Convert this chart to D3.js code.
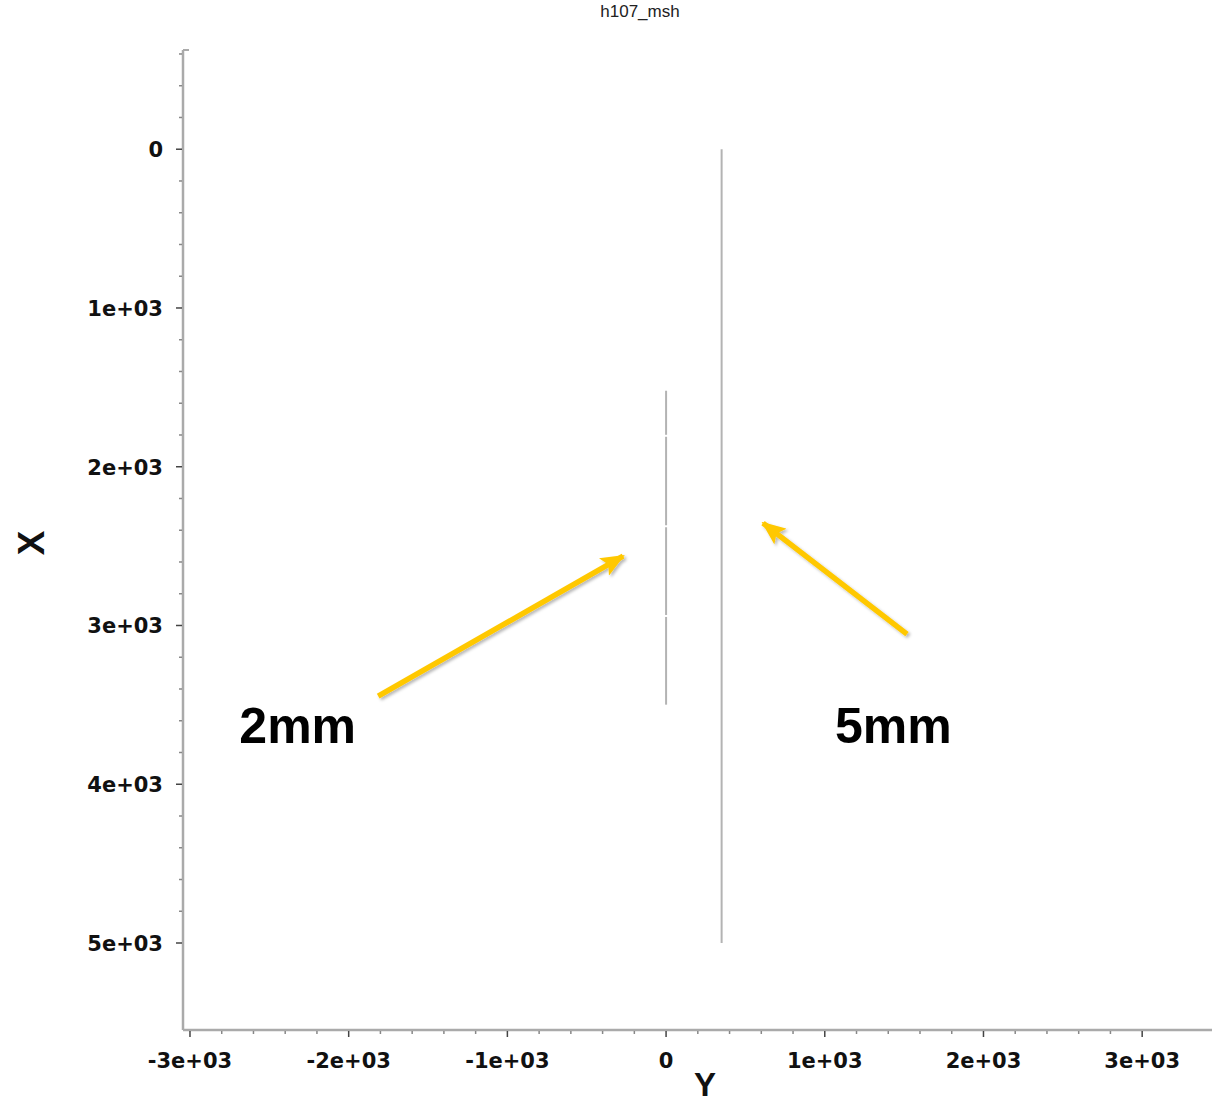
<!DOCTYPE html>
<html>
<head>
<meta charset="utf-8">
<script src="https://cdn.jsdelivr.net/npm/d3@7"></script>
<style>
  html, body { margin: 0; padding: 0; background: #fff; }
  svg { display: block; }
</style>
</head>
<body>
<svg id="chart" width="1212" height="1105"></svg>
<script>
// ---- data ----
const chartTitle = "h107_msh";
const xAxisTitle = "Y";
const yAxisTitle = "X";
const xMajorTicks = [-3000, -2000, -1000, 0, 1000, 2000, 3000];
const xTickLabels = ["-3e+03", "-2e+03", "-1e+03", "0", "1e+03", "2e+03", "3e+03"];
const yMajorTicks = [0, 1000, 2000, 3000, 4000, 5000];
const yTickLabels = ["0", "1e+03", "2e+03", "3e+03", "4e+03", "5e+03"];
const minorStep = 200;
// electrode lines: position along Y, and segment boundaries along X
const line5mmY = 350;
const line5mmX = [0, 5000];
const line2mmY = 0;
const line2mmBounds = [1515, 1805, 2375, 2940, 3505];
// annotations (data units: [Y, X])
const arrows = [
  { from: [-1814, 3445], to: [-271, 2563] },
  { from: [1518, 3054], to: [611, 2355] }
];
const labels = [
  { text: "2mm", at: [-2689, 3741] },
  { text: "5mm", at: [1064, 3741] }
];

// ---- layout ----
const svg = d3.select("#chart");
const x = d3.scaleLinear().domain([-3044, 3440]).range([183, 1212]);
const y = d3.scaleLinear().domain([-625, 5548]).range([50, 1030]);

const defs = svg.append("defs");
const f = defs.append("filter").attr("id", "shadow").attr("x", "-20%").attr("y", "-20%").attr("width", "140%").attr("height", "140%");
f.append("feDropShadow").attr("dx", 2).attr("dy", 2).attr("stdDeviation", 1.8)
  .attr("flood-color", "#000").attr("flood-opacity", 0.28);
defs.append("marker").attr("id", "head")
  .attr("markerUnits", "userSpaceOnUse")
  .attr("viewBox", "0 0 24 20").attr("refX", 22).attr("refY", 10)
  .attr("markerWidth", 24).attr("markerHeight", 20).attr("orient", "auto")
  .append("path").attr("d", "M0,0 L24,10 L0,20 L5,10 Z").attr("fill", "#FFC800");

// title
svg.append("text").attr("x", 640).attr("y", 17).attr("text-anchor", "middle")
  .attr("font-family", "Liberation Sans, Arial, sans-serif").attr("font-size", 17)
  .attr("fill", "#222").text(chartTitle);

// axes lines
const axisColor = "#aaaaaa";
svg.append("line").attr("x1", x.range()[0]).attr("x2", x.range()[1])
  .attr("y1", y.range()[1]).attr("y2", y.range()[1])
  .attr("stroke", axisColor).attr("stroke-width", 2.5);
svg.append("line").attr("x1", x.range()[0]).attr("x2", x.range()[0])
  .attr("y1", y.range()[0]).attr("y2", y.range()[1])
  .attr("stroke", axisColor).attr("stroke-width", 2.5);
svg.append("line").attr("x1", x.range()[0]).attr("x2", x.range()[0] + 6)
  .attr("y1", y.range()[0]).attr("y2", y.range()[0])
  .attr("stroke", axisColor).attr("stroke-width", 2);

// ticks
const xMinor = d3.range(-3000, 3000 + 1, minorStep);
const yMinor = d3.range(-600, 5000 + 1, minorStep);
const yBase = y.range()[1];
const xBase = x.range()[0];
svg.append("g").selectAll("line").data(xMinor).join("line")
  .attr("x1", d => x(d)).attr("x2", d => x(d))
  .attr("y1", yBase + 1).attr("y2", d => yBase + (d % 1000 === 0 ? 7 : 4))
  .attr("stroke", d => d % 1000 === 0 ? "#444" : "#888").attr("stroke-width", 1.5);
svg.append("g").selectAll("line").data(yMinor).join("line")
  .attr("y1", d => y(d)).attr("y2", d => y(d))
  .attr("x1", xBase - 1).attr("x2", d => xBase - (d % 1000 === 0 ? 7 : 4))
  .attr("stroke", d => d % 1000 === 0 ? "#444" : "#888").attr("stroke-width", 1.5);

const tickFont = "DejaVu Sans, Verdana, sans-serif";
svg.append("g").selectAll("text").data(xMajorTicks).join("text")
  .attr("x", d => x(d)).attr("y", 1068).attr("text-anchor", "middle")
  .attr("font-family", tickFont).attr("font-weight", "bold").attr("font-size", 21)
  .attr("fill", "#111").text((d, i) => xTickLabels[i]);
svg.append("g").selectAll("text").data(yMajorTicks).join("text")
  .attr("x", 163).attr("y", d => y(d) + 8).attr("text-anchor", "end")
  .attr("font-family", tickFont).attr("font-weight", "bold").attr("font-size", 21)
  .attr("fill", "#111").text((d, i) => yTickLabels[i]);

// axis titles
svg.append("text").attr("x", 705).attr("y", 1096).attr("text-anchor", "middle")
  .attr("font-family", "Liberation Sans, Arial, sans-serif").attr("font-weight", "bold")
  .attr("font-size", 33).attr("fill", "#111").text(xAxisTitle);
svg.append("text").attr("transform", "translate(44,543) rotate(-90)")
  .attr("text-anchor", "middle")
  .attr("font-family", "Liberation Sans, Arial, sans-serif").attr("font-weight", "bold")
  .attr("font-size", 37).attr("fill", "#111").text(yAxisTitle);

// electrode lines
svg.append("line").attr("x1", x(line5mmY)).attr("x2", x(line5mmY))
  .attr("y1", y(line5mmX[0])).attr("y2", y(line5mmX[1]))
  .attr("stroke", "#b3b3b3").attr("stroke-width", 2);
const segs = d3.pairs(line2mmBounds);
svg.append("g").selectAll("line").data(segs).join("line")
  .attr("x1", x(line2mmY)).attr("x2", x(line2mmY))
  .attr("y1", d => y(d[0]) + 1).attr("y2", d => y(d[1]) - 1)
  .attr("stroke", "#b3b3b3").attr("stroke-width", 2);

// arrows
svg.append("g").attr("filter", "url(#shadow)").selectAll("line").data(arrows).join("line")
  .attr("x1", d => x(d.from[0])).attr("y1", d => y(d.from[1]))
  .attr("x2", d => x(d.to[0])).attr("y2", d => y(d.to[1]))
  .attr("stroke", "#FFC800").attr("stroke-width", 5.5)
  .attr("marker-end", "url(#head)");

// labels
svg.append("g").selectAll("text").data(labels).join("text")
  .attr("x", d => x(d.at[0])).attr("y", d => y(d.at[1]))
  .attr("font-family", "Liberation Sans, Arial, sans-serif").attr("font-weight", "bold")
  .attr("font-size", 50).attr("fill", "#000").text(d => d.text);
</script>
</body>
</html>
